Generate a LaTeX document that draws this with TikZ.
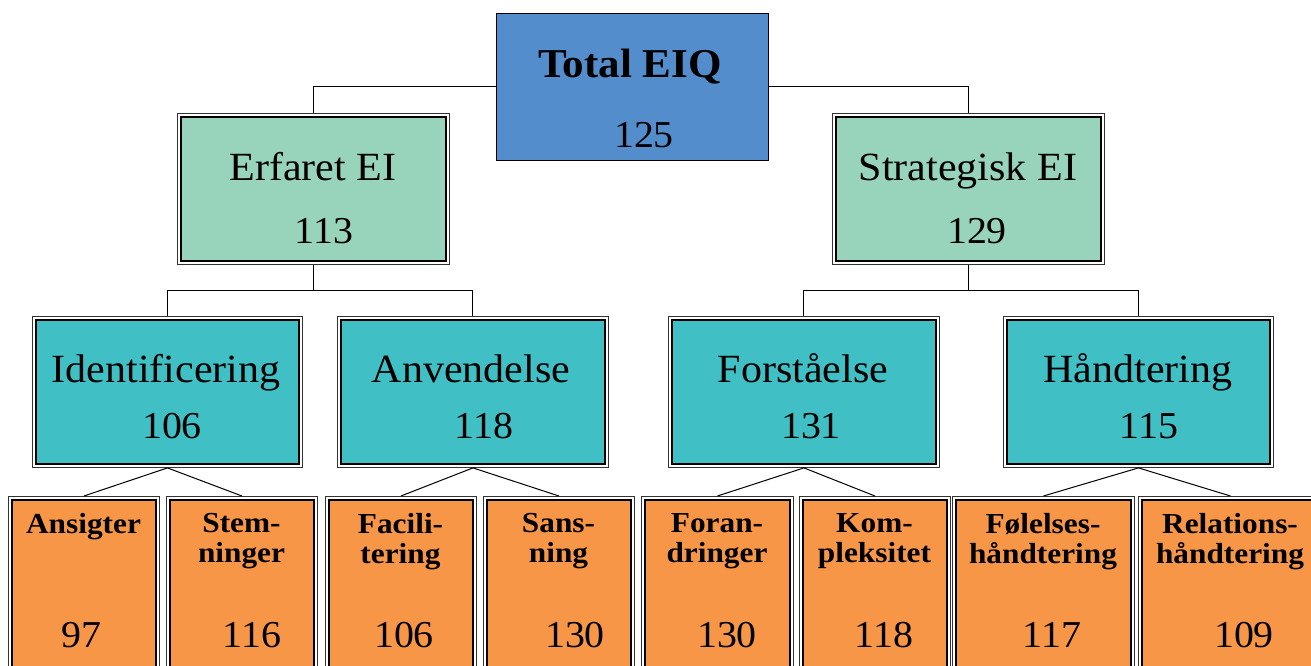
\documentclass[tikz,border=0pt]{standalone}
\usepackage{fontspec}
\setmainfont[FakeStretch=1.05]{Liberation Serif}
\newfontfamily\leaffont[FakeStretch=1.08]{Liberation Serif}
\usetikzlibrary{calc}
\definecolor{cblue}{RGB}{84,141,204}
\definecolor{cgreen}{RGB}{152,212,188}
\definecolor{cteal}{RGB}{64,191,196}
\definecolor{corange}{RGB}{247,150,70}
\tikzset{
  outerbox/.style={draw=black!80, line width=0.9pt, fill=white, inner sep=0pt, anchor=north west},
  innerfill/.style={line width=1.6pt, draw=black},
  topbox/.style={draw=black, line width=1pt, fill=cblue, inner sep=0pt, anchor=north west},
  ttl/.style={anchor=base, inner sep=0pt, font=\fontsize{40}{40}\selectfont},
  toptitle/.style={anchor=base, inner sep=0pt, font=\bfseries\fontsize{41}{41}\selectfont},
  num/.style={anchor=base, inner sep=0pt, font=\fontsize{38}{38}\selectfont},
  leaftitle/.style={anchor=north, inner sep=0pt, align=center, font=\leaffont\bfseries\fontsize{29}{30}\selectfont},
  conn/.style={draw=black, line width=1pt}
}
\newcommand\dbox[6]{%
  \node[outerbox, minimum width=#4pt, minimum height=#5pt] (#1) at (#2,#3) {};
  \draw[innerfill, fill=#6] ([shift={(4,4)}]#1.north west) rectangle ([shift={(-4,-4)}]#1.south east);
}
\begin{document}
\begin{tikzpicture}[x=1pt,y=-1pt]
\clip (0,0) rectangle (1311,666);
\fill[white] (0,0) rectangle (1311,666);
% boxes
\node[topbox, minimum width=272pt, minimum height=147pt] (tot) at (496,13) {};
\dbox{erf}{177}{113}{272}{151}{cgreen}
\dbox{str}{832}{113}{272}{151}{cgreen}
\dbox{iden}{32}{316}{270}{151}{cteal}
\dbox{anv}{337}{316}{271}{151}{cteal}
\dbox{fors}{668}{316}{271}{151}{cteal}
\dbox{hand}{1003}{316}{270}{151}{cteal}
\dbox{ans}{8}{496}{151}{220}{corange}
\dbox{stem}{166}{496}{151}{220}{corange}
\dbox{fac}{325}{496}{151}{220}{corange}
\dbox{sans}{483}{496}{151}{220}{corange}
\dbox{foran}{641}{496}{152}{220}{corange}
\dbox{komp}{799}{496}{151}{220}{corange}
\dbox{fol}{952}{496}{182}{220}{corange}
\dbox{rel}{1138}{496}{184}{220}{corange}
% connectors
\coordinate (busL) at (0,290);
\coordinate (busR) at (0,290);
\draw[conn] (tot.west) -| (erf.north);
\draw[conn] (tot.east) -| (str.north);
\draw[conn] (erf.south) -- (erf.south |- busL) -| (iden.north);
\draw[conn] (erf.south |- busL) -| (anv.north);
\draw[conn] (str.south) -- (str.south |- busR) -| (fors.north);
\draw[conn] (str.south |- busR) -| (hand.north);
\draw[conn] (iden.south) -- (ans.north);
\draw[conn] (iden.south) -- (stem.north);
\draw[conn] (anv.south) -- (fac.north);
\draw[conn] (anv.south) -- (sans.north);
\draw[conn] (fors.south) -- (foran.north);
\draw[conn] (fors.south) -- (komp.north);
\draw[conn] (hand.south) -- (fol.north);
\draw[conn] (hand.south) -- (rel.north);
% texts
\node[toptitle] (t1) at (630,78) {Total EIQ};
\node[num] (n1) at (644,147) {125};
\node[ttl] (t2) at (313,180) {Erfaret EI};
\node[num] (n2) at (324,243) {113};
\node[ttl] (t3) at (968,180) {Strategisk EI};
\node[num] (n3) at (977,243) {129};
\node[ttl] (t4) at (166,382) {Identificering};
\node[num] (n4) at (172,438) {106};
\node[ttl] (t5) at (471,382) {Anvendelse};
\node[num] (n5) at (484,438) {118};
\node[ttl] (t6) at (803,382) {Forståelse};
\node[num] (n6) at (811,438) {131};
\node[ttl] (t7) at (1138,382) {Håndtering};
\node[num] (n7) at (1149,438) {115};
\node[leaftitle] (l1) at (83.5,513) {Ansigter};
\node[leaftitle] (l2) at (241.5,513) {Stem-\\ninger};
\node[leaftitle] (l3) at (400.5,513) {Facili-\\tering};
\node[leaftitle] (l4) at (558.5,513) {Sans-\\ning};
\node[leaftitle] (l5) at (717,513) {Foran-\\dringer};
\node[leaftitle] (l6) at (874.5,513) {Kom-\\pleksitet};
\node[leaftitle] (l7) at (1043,513) {Følelses-\\håndtering};
\node[leaftitle] (l8) at (1230,513) {Relations-\\håndtering};
\node[num] (m1) at (81,647) {97};
\node[num] (m2) at (252,647) {116};
\node[num] (m3) at (404,647) {106};
\node[num] (m4) at (575,647) {130};
\node[num] (m5) at (727,647) {130};
\node[num] (m6) at (884,647) {118};
\node[num] (m7) at (1052,647) {117};
\node[num] (m8) at (1244,647) {109};
\end{tikzpicture}
\end{document}
